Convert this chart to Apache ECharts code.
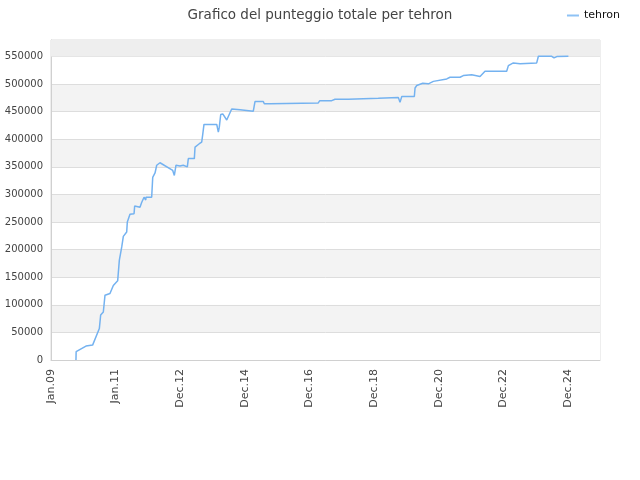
<!DOCTYPE html>
<html><head><meta charset="utf-8">
<script src="https://cdn.jsdelivr.net/npm/echarts@6/dist/echarts.min.js"></script>
<style>html,body{margin:0;padding:0;background:#fff}#c{width:640px;height:480px}</style>
</head><body><div id="c"></div>
<script>
var title = 'Grafico del punteggio totale per tehron';
var seriesName = 'tehron';
var dates = ['2009-10-10','2009-10-12','2010-01-31','2010-04-16','2010-07-01','2010-07-16','2010-08-15','2010-09-03','2010-10-29','2010-12-06','2011-01-24','2011-02-12','2011-03-11','2011-03-29','2011-05-06','2011-05-13','2011-06-12','2011-07-28','2011-08-04','2011-10-03','2011-10-23','2011-11-18','2011-12-07','2011-12-10','2012-02-12','2012-02-24','2012-03-21','2012-04-09','2012-05-16','2012-10-07','2012-10-25','2012-11-13','2012-12-28','2013-01-16','2013-02-03','2013-03-21','2013-04-01','2013-06-08','2013-06-16','2013-08-03','2013-08-30','2013-09-11','2013-09-25','2014-02-16','2014-03-06','2014-03-17','2014-04-02','2014-04-25','2014-06-09','2014-08-04','2014-11-06','2015-04-05','2015-04-24','2015-07-27','2015-08-07','2015-10-11','2015-10-30','2017-04-08','2017-04-25','2017-09-07','2017-10-14','2018-03-13','2019-02-15','2019-09-29','2019-10-18','2019-11-07','2020-03-28','2020-04-05','2020-04-24','2020-07-01','2020-09-02','2020-10-29','2021-03-29','2021-05-05','2021-08-26','2021-10-02','2022-01-05','2022-04-09','2022-06-04','2023-02-04','2023-02-23','2023-04-20','2023-07-05','2024-01-09','2024-01-28','2024-06-27','2024-07-23','2024-08-23','2025-01-01'];
var values = [0,15000,25300,27000,57000,81500,87000,117500,120500,135000,143500,181000,205000,224000,232000,250000,264000,265000,279000,277000,286000,295000,290000,295000,295000,331000,339000,353000,357500,343500,334500,353000,351500,348000,353000,350000,365000,365000,386000,392000,395000,409000,427000,427000,413000,422000,445000,446000,435000,455000,453500,451000,468500,468500,464500,464500,466000,466000,470000,470000,472700,472700,474500,476000,467000,477500,477500,493000,497500,501500,500500,505000,509500,512500,512500,515500,517000,514000,523500,523500,533500,538500,537000,538500,550500,550500,547500,550000,550500];
var yTicks = [0,50000,100000,150000,200000,250000,300000,350000,400000,450000,500000,550000];
var months = ['Jan','Feb','Mar','Apr','May','Jun','Jul','Aug','Sep','Oct','Nov','Dec'];

var DAY = 86400000;
var origin = Date.UTC(2009,0,1);
function toDay(s){ var p = s.split('-'); return (Date.UTC(+p[0], +p[1]-1, +p[2]) - origin)/DAY; }
var data = dates.map(function(d,i){ return [toDay(d), values[i]]; });

var chart = echarts.init(document.getElementById('c'));
chart.setOption({
  animation:false,
  backgroundColor:'#ffffff',
  title:{text:title,left:'center',top:3,textStyle:{fontFamily:'DejaVu Sans',fontSize:13.5,fontWeight:'normal',color:'#444'}},
  legend:{data:[seriesName],right:15,top:5,itemWidth:12,itemHeight:2,icon:'rect',textStyle:{fontFamily:'DejaVu Sans',fontSize:11,color:'#111'}},
  grid:{left:51,right:40,top:40,bottom:120,show:true,borderColor:'#dddddd',borderWidth:1,backgroundColor:'transparent'},
  xAxis:{type:'value',min:0,max:6201,interval:730,
    axisLine:{show:true,lineStyle:{color:'#d0d0d0'}},axisTick:{show:false},splitLine:{show:false},
    axisLabel:{rotate:90,showMaxLabel:false,fontFamily:'DejaVu Sans',fontSize:11,color:'#444',margin:9,
      formatter:function(v){ var d = new Date(origin + v*DAY); return months[d.getUTCMonth()]+'.'+String(d.getUTCFullYear()).slice(2); }}},
  yAxis:{type:'value',min:0,max:580000,interval:50000,
    axisLine:{show:true,lineStyle:{color:'#d0d0d0'}},axisTick:{show:false},
    splitLine:{show:true,lineStyle:{color:'#dddddd'}},
    splitArea:{show:true,areaStyle:{color:['#ffffff','#f3f3f3']}},
    axisLabel:{showMaxLabel:false,fontFamily:'DejaVu Sans',fontSize:10,color:'#444',margin:8,
      formatter:function(v){ return yTicks.indexOf(v)>=0 ? String(v) : ''; }}},
  series:[{name:seriesName,type:'line',data:data,showSymbol:false,symbol:'none',
    lineStyle:{color:'#74b2f0',width:1.5},itemStyle:{color:'#8ec2f5'},
    markArea:{silent:true,itemStyle:{color:'#eeeeee'},data:[[{yAxis:550000},{yAxis:580000}]]}}]
});
</script></body></html>
